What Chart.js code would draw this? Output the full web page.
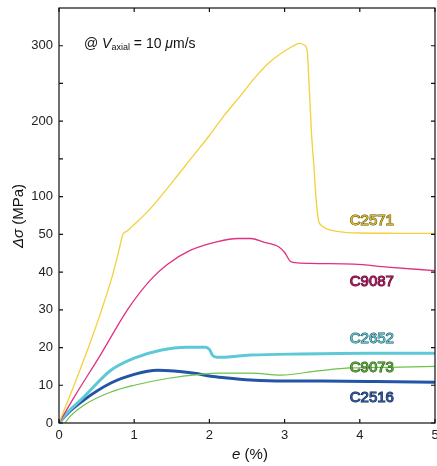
<!DOCTYPE html>
<html lang="en">
<head>
<meta charset="utf-8">
<style>
  body { margin: 0; background: #fff; }
  #wrap { width: 437px; height: 466px; }
</style>
</head>
<body>
<div id="wrap"><canvas id="myChart" width="437" height="466"></canvas></div>
<script src="https://cdn.jsdelivr.net/npm/chart.js"></script>
<script>
// strain e (%) and stress drop (MPa)
const e2571 = [0, 0.2, 0.4, 0.55, 0.68, 0.75, 0.8, 0.85, 0.9, 1.0, 1.2, 1.4, 1.6, 1.8, 2.0, 2.2, 2.4, 2.6, 2.8, 3.0, 3.1, 3.2, 3.26, 3.3, 3.33, 3.36, 3.39, 3.42, 3.45, 3.5, 3.57, 3.7, 3.8, 4.0, 4.5, 5.0];
const s2571 = [0, 10, 20.5, 29, 37, 42, 46, 50, 54, 63, 82.5, 106, 131, 156, 181, 208, 232, 257, 278, 293, 299, 303, 301, 293, 240, 180, 140, 95, 69, 61, 57, 54, 52.7, 51.8, 51.4, 51.2];

const e9087 = [0, 0.2, 0.55, 0.91, 1.22, 1.44, 1.75, 2.11, 2.38, 2.55, 2.73, 2.85, 2.93, 3.0, 3.08, 3.14, 3.35, 3.92, 4.37, 5.0];
const s9087 = [0, 6.8, 18, 30, 38, 42, 45.8, 48.1, 48.9, 48.9, 47.9, 47.3, 46.6, 45.2, 42.8, 42.5, 42.3, 42.1, 41.3, 40.4];

const e2652 = [0, 0.1, 0.33, 0.69, 1.0, 1.35, 1.7, 1.95, 2.0, 2.04, 2.1, 2.55, 3.21, 4.1, 5.0];
const s2652 = [0, 2.5, 6.9, 14, 17.2, 19.3, 20.1, 20.1, 19.5, 18, 17.4, 18, 18.3, 18.5, 18.5];

const e9073 = [0.08, 0.15, 0.33, 0.69, 1.0, 1.44, 1.88, 2.15, 2.55, 2.95, 3.44, 3.88, 4.55, 5.0];
const s9073 = [0, 1.8, 4.7, 8.2, 10, 11.8, 12.9, 13.2, 13.2, 12.7, 13.8, 14.6, 14.8, 15];

const e2516 = [0, 0.1, 0.33, 0.69, 1.0, 1.31, 1.53, 1.8, 2.02, 2.2, 2.55, 2.99, 3.5, 4.2, 5.0];
const s2516 = [0, 2.3, 6.1, 10.6, 12.9, 14, 13.8, 13.2, 12.4, 12, 11.4, 11.1, 11.1, 11, 10.8];

const names = ['C2571', 'C9087', 'C2652', 'C9073', 'C2516'];
const yTickLabels = [0, 10, 20, 30, 40, 50, 100, 200, 300];
const yMinorTicks = [150, 250];
const xTickLabels = [0, 1, 2, 3, 4, 5];

// axis is broken: 0-50 MPa drawn 5x taller than 50-350 MPa
const brk = 50, squeeze = 5;
const toAxis = v => v <= brk ? v : brk + (v - brk) / squeeze;
const fromAxis = t => t <= brk ? t : brk + (t - brk) * squeeze;

const pts = (xs, ys) => xs.map((x, i) => ({ x: x, y: toAxis(ys[i]) }));

const lineColors = ['#f3d03c', '#e0307f', '#5ec9d6', '#6cc24a', '#2354a6'];
const lineWidths = [1.3, 1.3, 3, 1.2, 3];
const labelFill = ['#d8bc2c', '#b0155e', '#5cc4d0', '#5ea83a', '#2a55a0'];
const labelStroke = ['#5a4a05', '#4a0626', '#1b4a55', '#1f4a10', '#0d1f45'];
const labelAt = [[4.16, 68.5], [4.16, 37.3], [4.16, 22.2], [4.16, 14.6], [4.16, 6.6]];

const series = [pts(e2571, s2571), pts(e9087, s9087), pts(e2652, s2652), pts(e9073, s9073), pts(e2516, s2516)];

const FONT = '"Liberation Sans", Arial, sans-serif';

const decor = {
  id: 'decor',
  afterDatasetsDraw(chart) {
    const ctx = chart.ctx;
    const a = chart.chartArea;
    const xs = chart.scales.x, ys = chart.scales.y;
    ctx.save();
    // frame
    ctx.strokeStyle = '#111';
    ctx.lineWidth = 1.2;
    ctx.strokeRect(a.left, a.top, a.right - a.left, a.bottom - a.top);
    // inward ticks
    ctx.beginPath();
    xTickLabels.forEach(v => {
      const px = xs.getPixelForValue(v);
      ctx.moveTo(px, a.bottom); ctx.lineTo(px, a.bottom - 4);
      ctx.moveTo(px, a.top); ctx.lineTo(px, a.top + 4);
    });
    yTickLabels.concat(yMinorTicks).forEach(v => {
      const py = ys.getPixelForValue(toAxis(v));
      ctx.moveTo(a.left, py); ctx.lineTo(a.left + 4, py);
      ctx.moveTo(a.right, py); ctx.lineTo(a.right - 4, py);
    });
    ctx.stroke();

    // series labels
    ctx.font = '15px ' + FONT;
    ctx.textAlign = 'center';
    ctx.textBaseline = 'middle';
    ctx.lineWidth = 1;
    names.forEach((n, i) => {
      const px = xs.getPixelForValue(labelAt[i][0]);
      const py = ys.getPixelForValue(toAxis(labelAt[i][1]));
      ctx.strokeStyle = labelStroke[i];
      ctx.strokeText(n, px, py);
      ctx.fillStyle = labelFill[i];
      ctx.fillText(n, px, py);
    });

    // annotation @ V_axial = 10 um/s
    ctx.fillStyle = '#111';
    ctx.textAlign = 'left';
    ctx.textBaseline = 'alphabetic';
    let x = 84;
    const y = 48;
    const put = (txt, font, dy) => {
      ctx.font = font;
      ctx.fillText(txt, x, y + (dy || 0));
      x += ctx.measureText(txt).width;
    };
    put('@ ', '14px ' + FONT);
    put('V', 'italic 14px ' + FONT);
    put('axial', '9px ' + FONT, 2);
    put(' = 10 ', '14px ' + FONT);
    put('\u03bc', 'italic 14px ' + FONT);
    put('m/s', '14px ' + FONT);

    // x title
    ctx.font = 'italic 15px ' + FONT;
    const w1 = ctx.measureText('e').width;
    ctx.font = '15px ' + FONT;
    const w2 = ctx.measureText(' (%)').width;
    let tx = 250 - (w1 + w2) / 2;
    ctx.font = 'italic 15px ' + FONT;
    ctx.fillText('e', tx, 459);
    ctx.font = '15px ' + FONT;
    ctx.fillText(' (%)', tx + w1, 459);

    // y title
    ctx.translate(23, 216);
    ctx.rotate(-Math.PI / 2);
    ctx.font = 'italic 15px ' + FONT;
    const w3 = ctx.measureText('\u0394\u03c3').width;
    ctx.font = '15px ' + FONT;
    const w4 = ctx.measureText(' (MPa)').width;
    tx = -(w3 + w4) / 2;
    ctx.font = 'italic 15px ' + FONT;
    ctx.fillText('\u0394\u03c3', tx, 0);
    ctx.font = '15px ' + FONT;
    ctx.fillText(' (MPa)', tx + w3, 0);
    ctx.restore();
  }
};

const data = {
  datasets: names.map((n, i) => ({
    label: n,
    data: series[i],
    borderColor: lineColors[i],
    backgroundColor: lineColors[i],
    borderWidth: lineWidths[i],
    pointRadius: 0,
    cubicInterpolationMode: 'monotone',
    fill: false
  }))
};

const config = {
  type: 'line',
  data: data,
  options: {
    responsive: false,
    animation: false,
    layout: { padding: { top: 8, right: 2, left: 0, bottom: 0 } },
    plugins: { legend: { display: false }, tooltip: { enabled: false } },
    scales: {
      x: {
        type: 'linear',
        min: 0, max: 5,
        grid: { display: false, drawTicks: false },
        border: { display: false },
        afterBuildTicks: s => { s.ticks = xTickLabels.map(v => ({ value: v })); },
        afterFit: s => { s.height = 43; s.paddingLeft = 0; s.paddingRight = 0; },
        ticks: { color: '#222', padding: 5, font: { family: FONT, size: 13 } }
      },
      y: {
        type: 'linear',
        min: 0, max: toAxis(350),
        grid: { display: false, drawTicks: false },
        border: { display: false },
        afterBuildTicks: s => { s.ticks = yTickLabels.map(v => ({ value: toAxis(v) })); },
        afterFit: s => { s.width = 59; s.paddingTop = 0; s.paddingBottom = 0; },
        ticks: {
          color: '#222', padding: 6, font: { family: FONT, size: 13 },
          callback: v => String(Math.round(fromAxis(v)))
        }
      }
    }
  },
  plugins: [decor]
};

const myChart = new Chart(document.getElementById('myChart'), config);
</script>
</body>
</html>
